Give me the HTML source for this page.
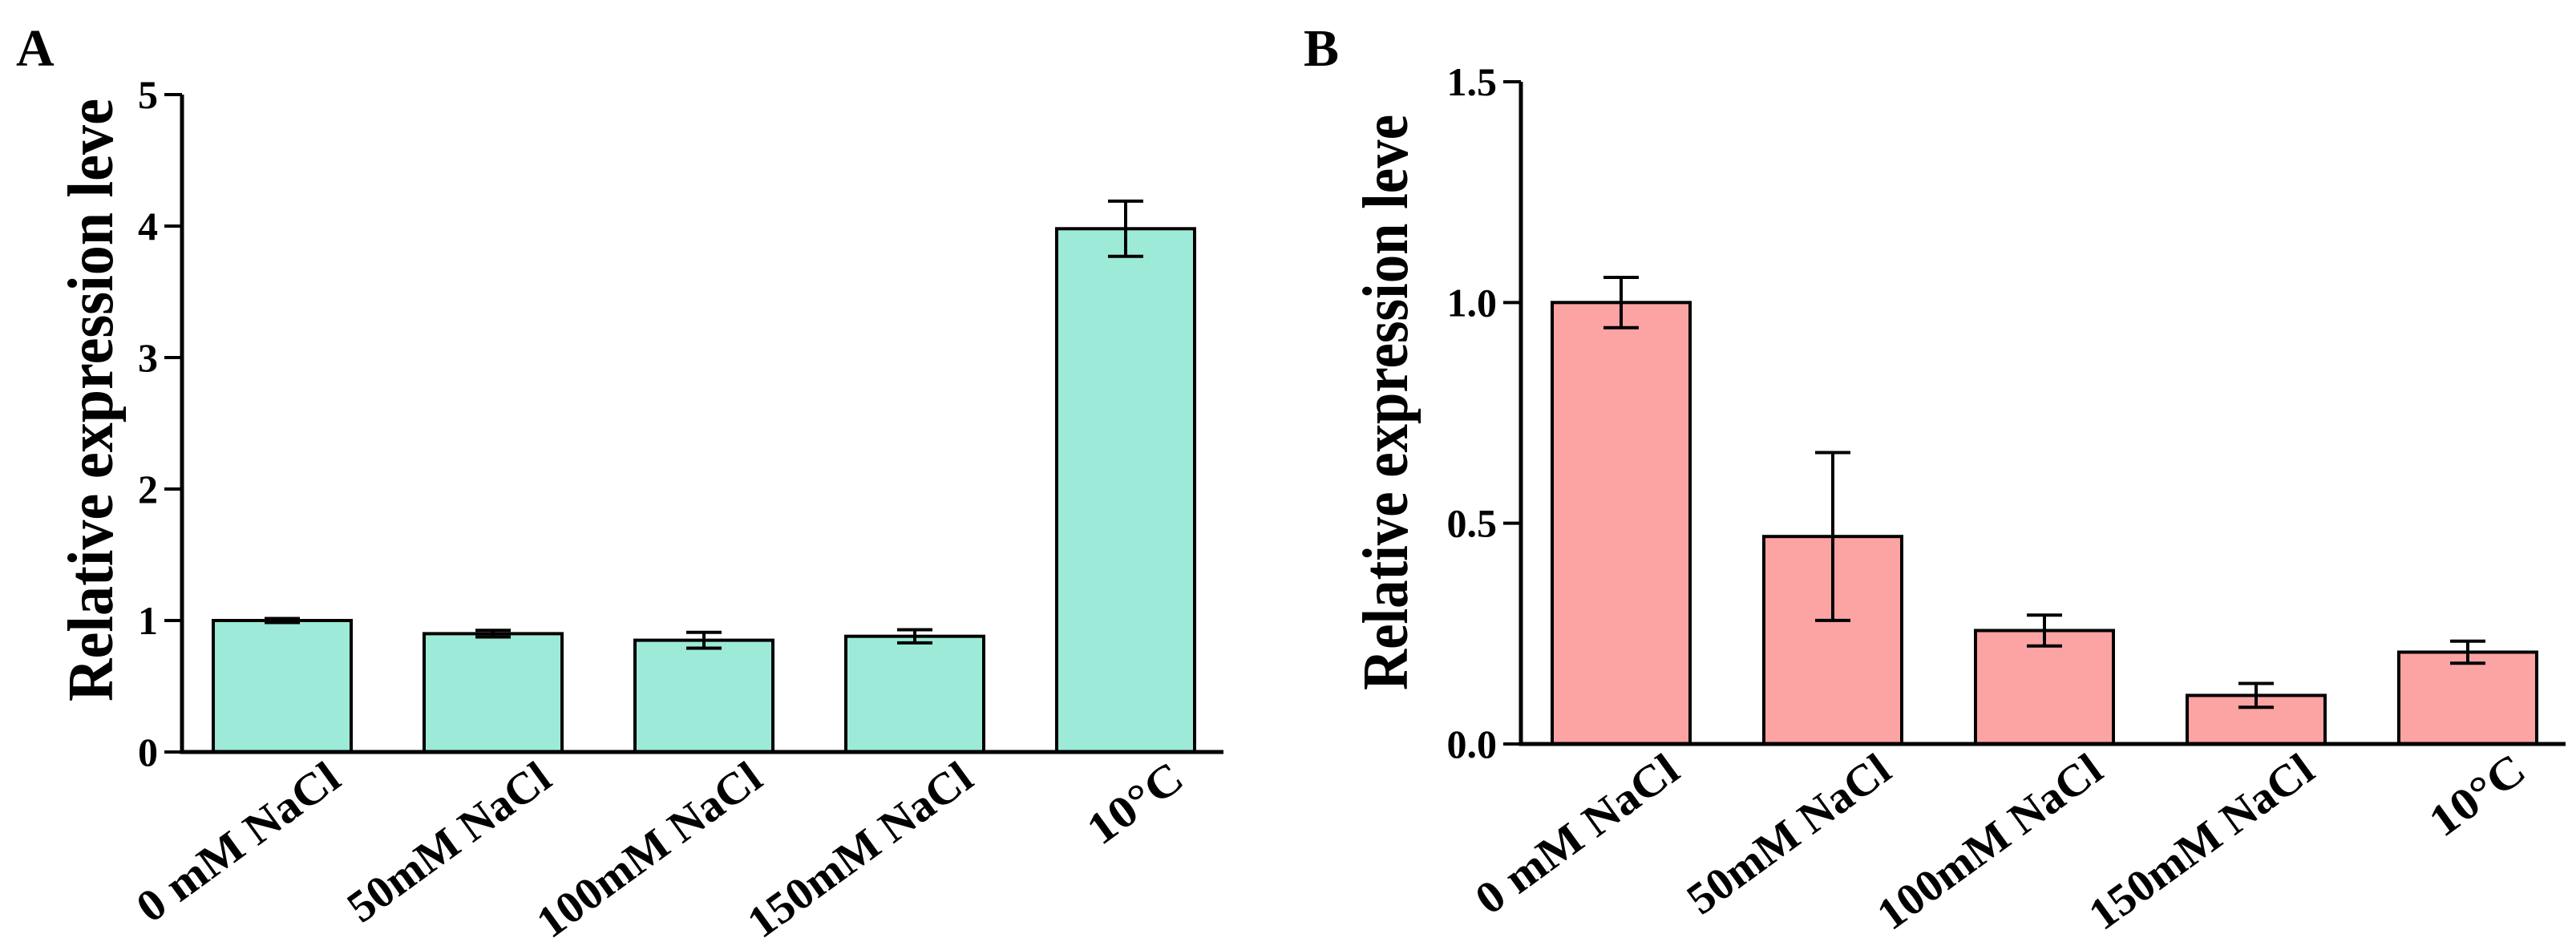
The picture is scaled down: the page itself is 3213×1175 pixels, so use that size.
<!DOCTYPE html>
<html><head><meta charset="utf-8"><style>
html,body{margin:0;padding:0;background:#fff;}
svg{display:block;font-family:"Liberation Serif",serif;font-weight:bold;}
</style></head><body>
<svg id="chart" width="3213" height="1175" viewBox="0 0 3213 1175" xmlns="http://www.w3.org/2000/svg">
<text x="20" y="82" font-size="66">A</text>
<text x="1626" y="82" font-size="66">B</text>
<g id="pa"></g>
<g id="pb"></g>
</svg>
<script>
const categories = ["0 mM NaCl","50mM NaCl","100mM NaCl","150mM NaCl","10°C"];
const valuesA = [1.0, 0.9, 0.85, 0.88, 3.98];
const errA = [0.015, 0.025, 0.06, 0.05, 0.21];
const ticksA = [0,1,2,3,4,5];
const tickLabelsA = ["0","1","2","3","4","5"];
const valuesB = [1.0, 0.47, 0.257, 0.11, 0.208];
const errB = [0.057, 0.19, 0.035, 0.027, 0.025];
const ticksB = [0,0.5,1.0,1.5];
const tickLabelsB = ["0.0","0.5","1.0","1.5"];
const NS="http://www.w3.org/2000/svg";
function mk(parent,tag,attrs){const e=document.createElementNS(NS,tag);for(const k in attrs)e.setAttribute(k,attrs[k]);parent.appendChild(e);return e;}
function draw(g,cfg){
  const {ax,y0,yTop,xEnd,max,vals,errs,ticks,labels,fill,firstC,step,titleX,titleY,titleLen,key}=cfg;
  const y=v=>y0-(v/max)*(y0-yTop);
  const x=i=>firstC+i*step;
  const bw=172;
  vals.forEach((v,i)=>{
    const r=mk(g,'rect',{x:x(i)-bw/2,y:y(v),width:bw,height:y0-y(v),fill:fill,stroke:'#000','stroke-width':4});
    
    
    const e=errs[i];
    const eg=mk(g,'path',{d:`M${x(i)} ${y(v+e)}V${y(v-e)}M${x(i)-22} ${y(v+e)}h44M${x(i)-22} ${y(v-e)}h44`,stroke:'#000','stroke-width':4,fill:'none'});
    
    
    const tx=x(i)+76, ty=y0+40;
    const t=mk(g,'text',{x:tx,y:ty,'font-size':56,'text-anchor':'end',textLength:categories[i].length*33,lengthAdjust:'spacingAndGlyphs',transform:`rotate(-36 ${tx} ${ty})`});
    t.textContent=categories[i];
    
    
  });
  const axes=mk(g,'path',{d:`M${ax} ${yTop}V${y0}H${xEnd}`,stroke:'#000','stroke-width':5,fill:'none'});
  
  
  ticks.forEach((tv,i)=>{
    mk(g,'line',{x1:ax-22,x2:ax,y1:y(tv),y2:y(tv),stroke:'#000','stroke-width':4});
    const t=mk(g,'text',{x:ax-30,y:y(tv)+17,'font-size':50,'text-anchor':'end'});
    t.textContent=labels[i];
    
    
  });
  const tt=mk(g,'text',{x:titleX,y:titleY,'font-size':80,'text-anchor':'middle',textLength:titleLen,lengthAdjust:'spacingAndGlyphs',transform:`rotate(-90 ${titleX} ${titleY})`});
  tt.textContent='Relative expression leve';
  
  
}
draw(document.getElementById('pa'),{ax:227,y0:938,yTop:118,xEnd:1526,max:5,vals:valuesA,errs:errA,ticks:ticksA,labels:tickLabelsA,fill:'#9DEAD8',firstC:352,step:263,titleX:140,titleY:499,titleLen:752,key:'a'});
draw(document.getElementById('pb'),{ax:1897,y0:928,yTop:102,xEnd:3200,max:1.5,vals:valuesB,errs:errB,ticks:ticksB,labels:tickLabelsB,fill:'#FCA3A3',firstC:2022,step:264,titleX:1755,titleY:502,titleLen:718,key:'b'});
</script>
</body></html>
